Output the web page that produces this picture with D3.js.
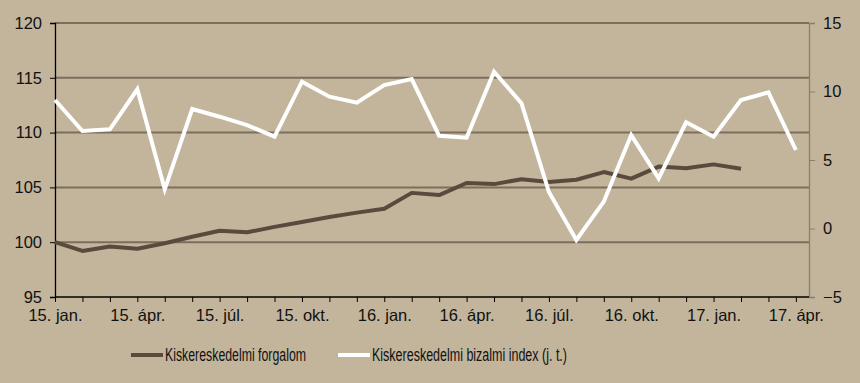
<!DOCTYPE html>
<html><head><meta charset="utf-8">
<script src="https://cdn.jsdelivr.net/npm/d3@7"></script>
<style>
html,body{margin:0;padding:0;background:#c2b59c;}
svg{display:block;font-family:"Liberation Sans",Arial,sans-serif;}
</style></head><body>
<script>
const months = ["jan.","febr.","márc.","ápr.","máj.","jún.","júl.","aug.","szept.","okt.","nov.","dec."];
const categories = [];
for (let y = 15; y <= 17; y++) for (let m = 0; m < 12; m++) { if (y === 17 && m > 3) break; categories.push(y + ". " + months[m]); }
const forgalom = [100.0, 99.2, 99.6, 99.4, 99.9, 100.5, 101.05, 100.9, 101.4, 101.85, 102.3, 102.7, 103.05, 104.5, 104.3, 105.4, 105.3, 105.75, 105.5, 105.7, 106.4, 105.8, 106.9, 106.75, 107.1, 106.7];
const bizalmi = [9.38, 7.12, 7.24, 10.16, 2.86, 8.72, 8.16, 7.55, 6.7, 10.72, 9.62, 9.18, 10.47, 10.91, 6.77, 6.63, 11.45, 9.14, 2.66, -0.84, 1.96, 6.82, 3.66, 7.75, 6.7, 9.38, 9.94, 5.73];
const leftTicks = [95, 100, 105, 110, 115, 120];
const rightTicks = [-5, 0, 5, 10, 15];
const seriesNames = ["Kiskereskedelmi forgalom", "Kiskereskedelmi bizalmi index (j. t.)"];

const W = 860, H = 383;
const L = 55, R = 809, T = 23, B = 297;
const step = 27.44;
const svg = d3.select("body").append("svg").attr("width", W).attr("height", H);
svg.append("rect").attr("width", W).attr("height", H).attr("fill", "#c2b59c");

const x = d3.scaleLinear().domain([0, 1]).range([L, L + step]);
const yL = d3.scaleLinear().domain([95, 120]).range([B, T]);
const yR = d3.scaleLinear().domain([-5, 15]).range([B, T]);

// gridlines
svg.append("g").selectAll("line").data(leftTicks.slice(1)).join("line")
  .attr("x1", L).attr("x2", R).attr("y1", d => yL(d)).attr("y2", d => yL(d))
  .attr("stroke", "#7c6e5d").attr("stroke-width", 2);

// left axis
const gl = svg.append("g").attr("transform", `translate(${L},0)`)
  .call(d3.axisLeft(yL).tickValues(leftTicks).tickSize(5).tickPadding(8).tickFormat(d3.format("d")));
gl.select(".domain").attr("stroke", "#000").attr("stroke-width", 1.3);
gl.selectAll(".tick line").attr("stroke", "#000");
gl.selectAll("text").attr("font-size", 16.5).attr("fill", "#111").attr("font-family", "Liberation Sans, Arial, sans-serif");

// right axis
const gr = svg.append("g").attr("transform", `translate(${R},0)`)
  .call(d3.axisRight(yR).tickValues(rightTicks).tickSize(6).tickPadding(8).tickFormat(d3.format("d")));
gr.select(".domain").attr("stroke", "#8a7e6d").attr("stroke-width", 1.3);
gr.selectAll(".tick line").attr("stroke", "#8a7e6d");
gr.selectAll("text").attr("font-size", 16.5).attr("fill", "#111").attr("font-family", "Liberation Sans, Arial, sans-serif");

// bottom axis
const gb = svg.append("g").attr("transform", `translate(0,${B})`)
  .call(d3.axisBottom(x).tickValues(d3.range(categories.length)).tickSize(5).tickPadding(7.3)
    .tickFormat(i => i % 3 === 0 ? categories[i] : ""));
gb.select(".domain").attr("d", `M${L},0H${R}`).attr("stroke", "#000").attr("stroke-width", 1.3);
gb.selectAll(".tick line").attr("stroke", "#000");
gb.selectAll("text").attr("font-size", 16.5).attr("fill", "#111").attr("font-family", "Liberation Sans, Arial, sans-serif");

// lines
const lineL = d3.line().x((d, i) => x(i)).y(d => yL(d));
const lineR = d3.line().x((d, i) => x(i)).y(d => yR(d));
svg.append("path").datum(forgalom).attr("d", lineL).attr("fill", "none")
  .attr("stroke", "#5a4a3e").attr("stroke-width", 4).attr("stroke-linejoin", "round");
svg.append("path").datum(bizalmi).attr("d", lineR).attr("fill", "none")
  .attr("stroke", "#ffffff").attr("stroke-width", 4).attr("stroke-linejoin", "miter");

// legend
const legend = [
  {name: seriesNames[0], color: "#5a4a3e", x1: 131, x2: 163, tx: 165, tw: 141},
  {name: seriesNames[1], color: "#ffffff", x1: 338, x2: 370, tx: 372, tw: 195}
];
const lg = svg.append("g");
legend.forEach(l => {
  lg.append("line").attr("x1", l.x1).attr("x2", l.x2).attr("y1", 355).attr("y2", 355)
    .attr("stroke", l.color).attr("stroke-width", 4);
  lg.append("text").attr("x", l.tx).attr("y", 361).attr("font-size", 17.5).attr("fill", "#111")
    .attr("textLength", l.tw).attr("lengthAdjust", "spacingAndGlyphs").text(l.name);
});
</script>
</body></html>
